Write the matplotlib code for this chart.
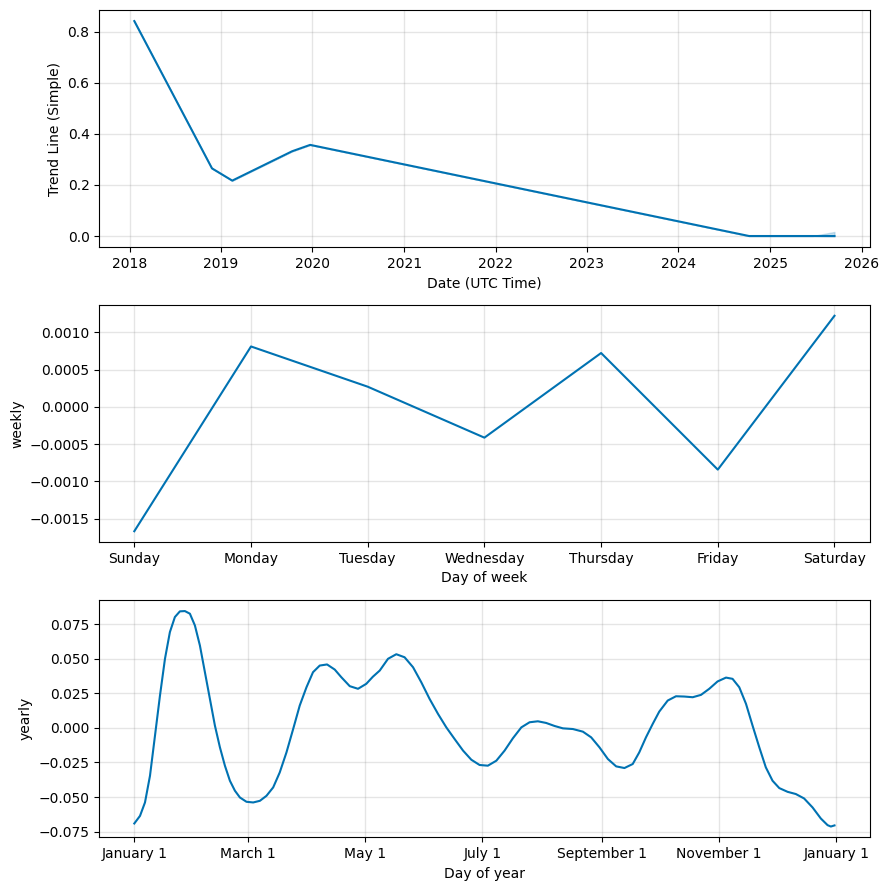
import matplotlib
matplotlib.use("Agg")
import matplotlib.pyplot as plt
import pandas as pd
import numpy as np
from matplotlib.dates import MonthLocator, num2date
from matplotlib.ticker import FuncFormatter

# ---------------- data ----------------
trend_dates = ["2018-01-20", "2018-11-26", "2019-02-15", "2019-10-12", "2019-12-23",
               "2024-10-09", "2025-06-20", "2025-09-15"]
trend_values = [0.842, 0.265, 0.217, 0.332, 0.357, 0.0, 0.0, 0.0]
trend_lower = [0.842, 0.265, 0.217, 0.332, 0.357, 0.0, 0.0, -0.002]
trend_upper = [0.842, 0.265, 0.217, 0.332, 0.357, 0.0, 0.0, 0.016]

week_days = ["Sunday", "Monday", "Tuesday", "Wednesday", "Thursday", "Friday", "Saturday"]
weekly_values = [-0.001668, 0.000812, 0.000272, -0.000412, 0.000724, -0.000841, 0.001224]

yearly_day = [0, 2.96, 5.55, 8.15, 10.75, 13.34, 15.94, 18.5, 21.1, 23.7, 26.3, 28.9,
              31.5, 34.1, 36.7, 39.3, 41.9, 44.5, 47.1, 49.7, 52.3, 54.9, 58.3, 61.8,
              65.3, 68.7, 72.2, 75.6, 79.1, 82.6, 86.0, 89.5, 92.9, 96.4, 100.2, 104.2,
              107.6, 112.0, 116.3, 120.6, 124.0, 127.6, 131.9, 136.2, 140.5, 144.9,
              149.2, 153.5, 157.9, 162.2, 166.5, 170.9, 175.2, 179.5, 183.8, 188.2,
              192.5, 196.8, 201.2, 205.5, 209.8, 214.1, 218.5, 222.8, 228.0, 233.2,
              237.5, 241.8, 246.2, 250.5, 254.8, 259.1, 262.5, 266.0, 269.5, 272.9,
              277.3, 281.6, 285.9, 290.3, 294.6, 298.9, 303.2, 307.6, 311.0, 314.5,
              318.0, 321.4, 324.9, 328.3, 331.8, 335.3, 339.6, 343.9, 348.2, 352.6,
              356.9, 360.4, 362.1, 364.0]
yearly_values = [-0.0691, -0.0636, -0.0539, -0.0346, -0.0056, 0.0234, 0.0500, 0.0693,
                 0.0802, 0.0843, 0.0845, 0.0826, 0.0741, 0.0596, 0.0403, 0.0210, 0.0017,
                 -0.0140, -0.0273, -0.0382, -0.0454, -0.0503, -0.0534, -0.0539, -0.0527,
                 -0.0491, -0.0430, -0.0322, -0.0177, -0.0007, 0.0162, 0.0294, 0.0403,
                 0.0451, 0.0459, 0.0422, 0.0367, 0.0302, 0.0283, 0.0319, 0.0370, 0.0415,
                 0.0500, 0.0533, 0.0511, 0.0439, 0.0330, 0.0210, 0.0101, 0.0004, -0.0080,
                 -0.0164, -0.0230, -0.0268, -0.0273, -0.0237, -0.0164, -0.0075, 0.0004,
                 0.0041, 0.0048, 0.0036, 0.0014, -0.0003, -0.0008, -0.0027, -0.0068,
                 -0.0140, -0.0225, -0.0278, -0.0290, -0.0261, -0.0177, -0.0068, 0.0029,
                 0.0118, 0.0198, 0.0229, 0.0227, 0.0222, 0.0239, 0.0283, 0.0336, 0.0364,
                 0.0355, 0.0294, 0.0174, 0.0017, -0.0140, -0.0285, -0.0382, -0.0435,
                 -0.0462, -0.0478, -0.0510, -0.0575, -0.0655, -0.0703, -0.0713, -0.0705]

# ---------------- figure ----------------
COLOR = "#0072B2"
fig = plt.figure(figsize=(8.89, 8.90), dpi=100, facecolor="w")
W, H = 889.0, 890.0
left = 99.3 / W
width = (869.5 - 99.3) / W
h = 237.0 / H

def add_ax(top_px):
    return fig.add_axes([left, 1 - (top_px + 237.0) / H, width, h])

def grid(ax):
    ax.grid(True, which="major", c="gray", ls="-", lw=1, alpha=0.2)

# Trend
ax1 = add_ax(10.3)
td = pd.to_datetime(trend_dates)
ax1.plot(td, trend_values, ls="-", c=COLOR)
ax1.fill_between(td, trend_lower, trend_upper, color=COLOR, alpha=0.2)
grid(ax1)
ax1.set_xlabel("Date (UTC Time)")
ax1.set_ylabel("Trend Line (Simple)")

# Weekly
ax2 = add_ax(305.0)
ax2.plot(range(len(week_days)), weekly_values, ls="-", c=COLOR)
ax2.set_xticks(range(len(week_days)))
ax2.set_xticklabels(week_days)
grid(ax2)
ax2.set_xlabel("Day of week")
ax2.set_ylabel("weekly")

# Yearly
ax3 = add_ax(600.3)
yd = pd.Timestamp("2017-01-01") + pd.to_timedelta(yearly_day, unit="D")
ax3.plot(yd, yearly_values, ls="-", c=COLOR)
months = MonthLocator(range(1, 13), bymonthday=1, interval=2)
ax3.xaxis.set_major_formatter(FuncFormatter(
    lambda x, pos=None: "{dt:%B} {dt.day}".format(dt=num2date(x))))
ax3.xaxis.set_major_locator(months)
grid(ax3)
ax3.set_xlabel("Day of year")
ax3.set_ylabel("yearly")

fig.savefig("out.png", dpi=100, facecolor="w")
